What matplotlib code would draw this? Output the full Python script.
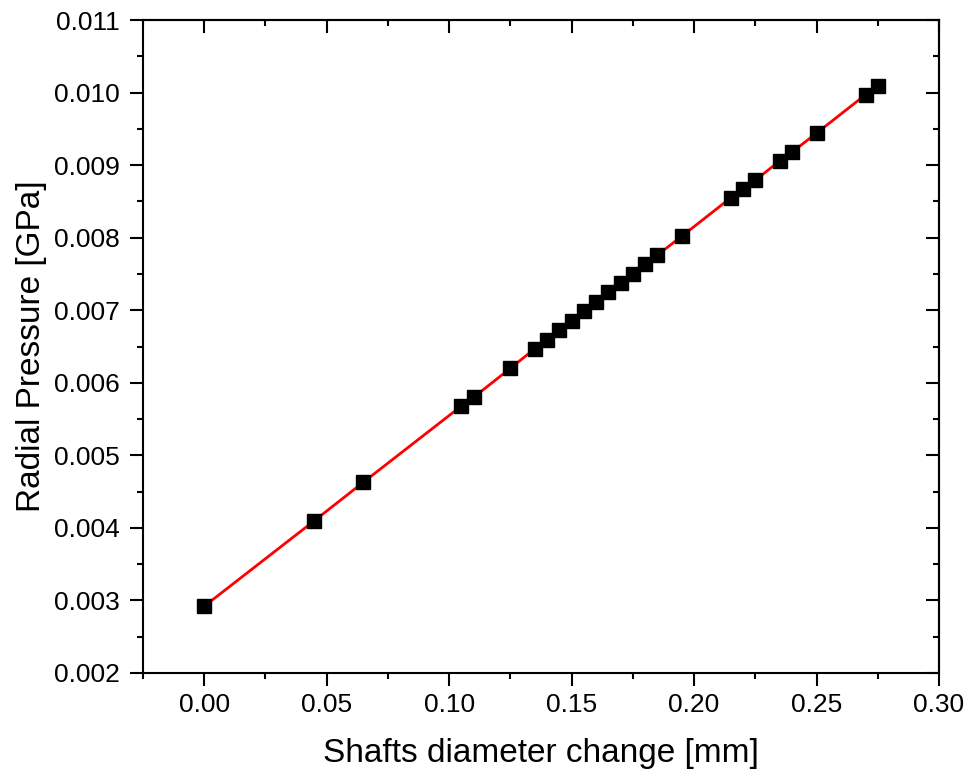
import matplotlib
matplotlib.use("Agg")
import matplotlib.pyplot as plt
from matplotlib.ticker import MultipleLocator, FormatStrFormatter

plt.rcParams["font.family"] = ["Liberation Sans", "DejaVu Sans"]

# shaft diameter change [mm] vs radial pressure [GPa]
diam_change = [0.0, 0.045, 0.065, 0.105, 0.11, 0.125, 0.135, 0.14, 0.145, 0.15,
               0.155, 0.16, 0.165, 0.17, 0.175, 0.18, 0.185, 0.195, 0.215, 0.22,
               0.225, 0.235, 0.24, 0.25, 0.27, 0.275]
pressure = [0.00292, 0.00410, 0.00463, 0.00568, 0.00580, 0.00620, 0.00647, 0.00659,
            0.00673, 0.00685, 0.00699, 0.00711, 0.00725, 0.00737, 0.00750, 0.00764,
            0.00776, 0.00802, 0.00855, 0.00867, 0.00879, 0.00906, 0.00918, 0.00944,
            0.00997, 0.01009]

fig = plt.figure(figsize=(9.72, 7.78), dpi=100)
ax = fig.add_axes([143 / 972, 1 - 673 / 778, (939 - 143) / 972, (673 - 20) / 778])

ax.plot(diam_change, pressure, color="red", lw=2, zorder=2)
ax.plot(diam_change, pressure, ls="none", marker="s", ms=10.5, color="black", zorder=3)

ax.set_xlim(-0.025, 0.30)
ax.set_ylim(0.002, 0.011)
ax.xaxis.set_major_locator(MultipleLocator(0.05))
ax.xaxis.set_minor_locator(MultipleLocator(0.025))
ax.yaxis.set_major_locator(MultipleLocator(0.001))
ax.yaxis.set_minor_locator(MultipleLocator(0.0005))
ax.xaxis.set_major_formatter(FormatStrFormatter("%.2f"))
ax.yaxis.set_major_formatter(FormatStrFormatter("%.3f"))

for s in ax.spines.values():
    s.set_linewidth(1.5)
ax.tick_params(which="both", direction="out", width=1.5, labelsize=19,
               top=False, right=False)
ax.tick_params(which="major", length=9.5)
ax.tick_params(which="minor", length=4.5)
ax.tick_params(axis="x", pad=5)
ax.tick_params(axis="y", pad=7)

# inward ticks on top and right, no labels
top = ax.secondary_xaxis("top")
right = ax.secondary_yaxis("right")
top.xaxis.set_major_locator(MultipleLocator(0.05))
top.xaxis.set_minor_locator(MultipleLocator(0.025))
right.yaxis.set_major_locator(MultipleLocator(0.001))
right.yaxis.set_minor_locator(MultipleLocator(0.0005))
for side_ax in (top, right):
    side_ax.tick_params(which="both", direction="in", width=1.5,
                        labeltop=False, labelright=False)
    side_ax.tick_params(which="major", length=9.5)
    side_ax.tick_params(which="minor", length=4.5)
    for s in side_ax.spines.values():
        s.set_linewidth(1.5)

ax.set_xlabel("Shafts diameter change [mm]", fontsize=24, labelpad=15)
ax.set_ylabel("Radial Pressure [GPa]", fontsize=24, labelpad=5)

fig.savefig("out.png", dpi=100)
